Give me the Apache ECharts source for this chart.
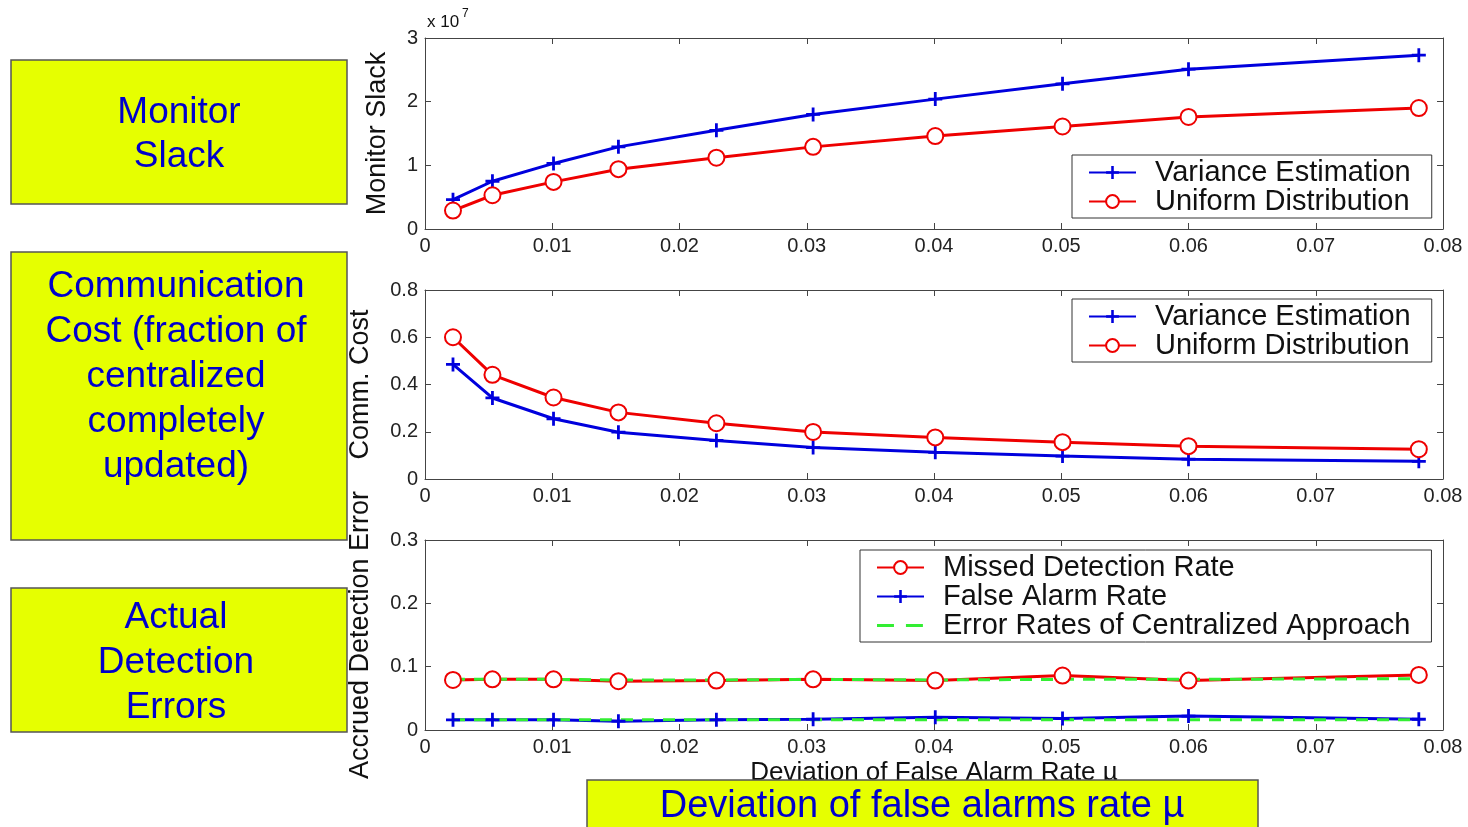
<!DOCTYPE html>
<html>
<head>
<meta charset="utf-8">
<title>Monitor slack, communication cost and detection errors</title>
<script src="https://cdn.jsdelivr.net/npm/echarts@6/dist/echarts.min.js"></script>
<style>
  html, body { margin: 0; padding: 0; background: #fff; }
  #chart { width: 1468px; height: 827px; }
</style>
</head>
<body>
<div id="chart"></div>
<script>
// deviation of false alarm rate (x positions of the markers)
const mu = [0.0022, 0.0053, 0.0101, 0.0152, 0.0229, 0.0305, 0.0401, 0.0501, 0.0600, 0.0781];

// monitor slack (units of 1e7)
const slackVariance = [0.46, 0.75, 1.03, 1.29, 1.55, 1.80, 2.04, 2.28, 2.51, 2.73];
const slackUniform = [0.29, 0.53, 0.74, 0.94, 1.12, 1.29, 1.46, 1.61, 1.76, 1.90];

// communication cost
const costVariance = [0.485, 0.343, 0.255, 0.198, 0.163, 0.133, 0.113, 0.097, 0.084, 0.075];
const costUniform = [0.600, 0.441, 0.345, 0.282, 0.236, 0.199, 0.176, 0.156, 0.139, 0.126];

// accrued detection error
const missedRate = [0.079, 0.080, 0.080, 0.077, 0.078, 0.080, 0.078, 0.086, 0.078, 0.087];
const falseAlarmRate = [0.016, 0.016, 0.016, 0.014, 0.016, 0.017, 0.020, 0.018, 0.022, 0.017];
const centralMissed = [0.080, 0.080, 0.080, 0.079, 0.079, 0.080, 0.079, 0.080, 0.080, 0.081];
const centralFalse = [0.016, 0.016, 0.016, 0.016, 0.016, 0.016, 0.016, 0.016, 0.016, 0.016];

const BLUE = "#0000dd";
const RED = "#ee0000";
const GREEN = "#33ee33";
const FONT = "'Liberation Sans', Arial, sans-serif";
const PLUS = "path://M0.4,0H0.6V0.4H1V0.6H0.6V1H0.4V0.6H0V0.4H0.4Z";
// two green dashes, with tiny corner dots so the icon keeps its 47x16 frame
const DASH_ICON = "path://M0,0h0.1v0.1h-0.1Z M0,6.5H17V9.5H0Z M29,6.5H46V9.5H29Z M47,15.9h0.1v0.1h-0.1Z";

const pairs = (ys) => mu.map((x, i) => [x, ys[i]]);

const chart = echarts.init(document.getElementById("chart"));

const grids = [
  { left: 425, right: 25, top: 38, height: 191 },
  { left: 425, right: 25, top: 290, height: 189 },
  { left: 425, right: 25, top: 540, height: 190 },
];

const tickLabel = { color: "#222", fontSize: 20, fontFamily: FONT };
const frameLine = { show: true, onZero: false, lineStyle: { color: "#444" } };
const innerTick = { show: true, inside: true, length: 6, lineStyle: { color: "#444" } };

// bottom + top x axis for each grid (top one only carries the inner ticks)
const xAxes = [];
grids.forEach((g, i) => {
  xAxes.push({
    type: "value", gridIndex: i, min: 0, max: 0.08, interval: 0.01,
    position: "bottom",
    axisLine: frameLine,
    axisTick: innerTick,
    axisLabel: Object.assign({ margin: 7, formatter: (v) => (v === 0 ? "0" : v.toFixed(2)) }, tickLabel),
    splitLine: { show: false },
    name: i === 2 ? "Deviation of False Alarm Rate \u00b5" : "",
    nameLocation: "middle", nameGap: 30,
    nameTextStyle: { color: "#111", fontSize: 26, fontFamily: FONT },
  });
  xAxes.push({
    type: "value", gridIndex: i, min: 0, max: 0.08, interval: 0.01,
    position: "top",
    axisLine: frameLine,
    axisTick: innerTick,
    axisLabel: { show: false },
    splitLine: { show: false },
  });
});

const yCfg = [
  { max: 3e7, interval: 1e7, fmt: (v) => String(Math.round(v / 1e7)), name: "Monitor Slack", gap: 34 },
  { max: 0.8, interval: 0.2, fmt: (v) => (v === 0 ? "0" : v.toFixed(1)), name: "Comm. Cost", gap: 51 },
  { max: 0.3, interval: 0.1, fmt: (v) => (v === 0 ? "0" : v.toFixed(1)), name: "Accrued Detection Error", gap: 51 },
];
const yAxes = [];
yCfg.forEach((c, i) => {
  yAxes.push({
    type: "value", gridIndex: i, min: 0, max: c.max, interval: c.interval,
    position: "left",
    axisLine: frameLine,
    axisTick: innerTick,
    axisLabel: Object.assign({ margin: 7, formatter: c.fmt }, tickLabel),
    splitLine: { show: false },
    name: c.name, nameLocation: "middle", nameRotate: 90, nameGap: c.gap,
    nameTextStyle: { color: "#111", fontSize: 27, fontFamily: FONT },
  });
  yAxes.push({
    type: "value", gridIndex: i, min: 0, max: c.max, interval: c.interval,
    position: "right",
    axisLine: frameLine,
    axisTick: innerTick,
    axisLabel: { show: false },
    splitLine: { show: false },
  });
});

const plusLine = (name, data, gi) => ({
  name, type: "line", xAxisIndex: gi * 2, yAxisIndex: gi * 2, data: pairs(data),
  symbol: PLUS, symbolSize: 14, itemStyle: { color: BLUE },
  lineStyle: { color: BLUE, width: 3 }, animation: false,
});
const circleLine = (name, data, gi) => ({
  name, type: "line", xAxisIndex: gi * 2, yAxisIndex: gi * 2, data: pairs(data),
  symbol: "emptyCircle", symbolSize: 16, showAllSymbol: true,
  itemStyle: { color: RED, borderColor: RED, borderWidth: 3 },
  lineStyle: { color: RED, width: 3 }, animation: false,
});
const dashedLine = (name, data, gi) => ({
  name, type: "line", xAxisIndex: gi * 2, yAxisIndex: gi * 2, data: pairs(data),
  symbol: "none", itemStyle: { color: GREEN },
  lineStyle: { color: GREEN, width: 3, type: [12, 9] }, animation: false,
});

const legendBase = {
  orient: "vertical",
  backgroundColor: "#fff",
  borderColor: "#333",
  borderWidth: 1,
  borderRadius: 0,
  itemWidth: 47,
  itemHeight: 16,
  itemGap: 0,
  selectedMode: false,
  padding: [3, 21, 2, 16],
  textStyle: { color: "#111", fontSize: 29, fontFamily: FONT, lineHeight: 29, padding: [0, 0, 0, 14] },
};

const boxStyle = { fill: "#e6ff00", stroke: "#555", lineWidth: 1.5 };
const boxText = (x, y, text, size, lh) => ({
  type: "text", x, y, z: 101,
  style: { text, fill: "#0000cc", font: size + "px " + FONT, textAlign: "center", textVerticalAlign: "middle", lineHeight: lh },
});

chart.setOption({
  backgroundColor: "#fff",
  animation: false,
  grid: grids,
  xAxis: xAxes,
  yAxis: yAxes,
  legend: [
    Object.assign({}, legendBase, { left: 1072, top: 155, data: ["Variance Estimation", "Uniform Distribution"] }),
    Object.assign({}, legendBase, { left: 1072, top: 299, data: ["Variance Estimation", "Uniform Distribution"] }),
    Object.assign({}, legendBase, {
      left: 860, top: 550,
      data: ["Missed Detection Rate", "False Alarm Rate", { name: "Error Rates of Centralized Approach", icon: DASH_ICON }],
    }),
  ],
  series: [
    plusLine("Variance Estimation", slackVariance.map((v) => v * 1e7), 0),
    circleLine("Uniform Distribution", slackUniform.map((v) => v * 1e7), 0),
    plusLine("Variance Estimation", costVariance, 1),
    circleLine("Uniform Distribution", costUniform, 1),
    circleLine("Missed Detection Rate", missedRate, 2),
    plusLine("False Alarm Rate", falseAlarmRate, 2),
    dashedLine("Error Rates of Centralized Approach", centralMissed, 2),
    dashedLine("Error Rates of Centralized Approach", centralFalse, 2),
  ],
  graphic: [
    { type: "text", x: 427, y: 14, style: { text: "x 10", fill: "#111", font: "17px " + FONT } },
    { type: "text", x: 462, y: 8, style: { text: "7", fill: "#111", font: "12px " + FONT } },
    { type: "rect", z: 100, shape: { x: 11, y: 60, width: 336, height: 144 }, style: boxStyle },
    boxText(179, 135, "Monitor\nSlack", 37, 44),
    { type: "rect", z: 100, shape: { x: 11, y: 252, width: 336, height: 288 }, style: boxStyle },
    boxText(176, 377, "Communication\nCost (fraction of\ncentralized\ncompletely\nupdated)", 37, 45),
    { type: "rect", z: 100, shape: { x: 11, y: 588, width: 336, height: 144 }, style: boxStyle },
    boxText(176, 663, "Actual\nDetection\nErrors", 37, 45),
    { type: "rect", z: 100, shape: { x: 587, y: 780, width: 671, height: 60 }, style: boxStyle },
    boxText(922, 807, "Deviation of false alarms rate \u00b5", 38, 40),
  ],
});
</script>
</body>
</html>
